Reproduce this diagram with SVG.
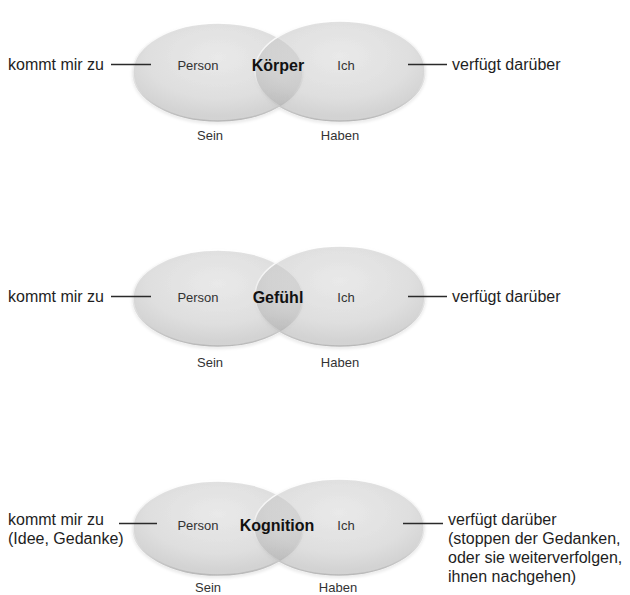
<svg xmlns="http://www.w3.org/2000/svg" width="630" height="595" viewBox="0 0 630 595">
  <defs>
    <radialGradient id="fillG" cx="50%" cy="35%" r="60%">
      <stop offset="0" stop-color="#d8d8d8"/>
      <stop offset="0.7" stop-color="#c2c2c2"/>
      <stop offset="1" stop-color="#a8a8a8"/>
    </radialGradient>
    <linearGradient id="strokeG" x1="0" y1="0" x2="0" y2="1">
      <stop offset="0" stop-color="#ffffff"/>
      <stop offset="0.5" stop-color="#ececec"/>
      <stop offset="1" stop-color="#b8b8b8"/>
    </linearGradient>
    <filter id="sh" x="-10%" y="-10%" width="120%" height="130%">
      <feDropShadow dx="0" dy="2" stdDeviation="1.5" flood-color="#000" flood-opacity="0.12"/>
    </filter>
  </defs>
  <style>
    .ell { fill: url(#fillG); fill-opacity: 0.45; stroke: url(#strokeG); stroke-width: 1.5; }
    .outer { font-family: "Liberation Sans", Arial, sans-serif; font-size: 16px; fill: #1e1e1e; }
    .inner { font-family: "Liberation Sans", Arial, sans-serif; font-size: 13px; fill: #333; text-anchor: middle; }
    .center { font-family: "Liberation Sans", Arial, sans-serif; font-size: 16px; font-weight: bold; fill: #111; text-anchor: middle; }
    .conn line { stroke: #2a2a2a; stroke-width: 1.5; }
  </style>
  <rect width="630" height="595" fill="#ffffff"/>

  <!-- Diagram 1 -->
  <g id="d1-ellipses" filter="url(#sh)">
    <ellipse id="d1-person" class="ell" cx="218" cy="72" rx="85" ry="49"/>
    <ellipse id="d1-ich" class="ell" cx="340" cy="71" rx="85" ry="50"/>
  </g>
  <g id="d1-person-label"><text class="inner" x="198" y="70">Person</text></g>
  <g id="d1-center"><text class="center" x="278" y="71">Körper</text></g>
  <g id="d1-ich-label"><text class="inner" x="346" y="70">Ich</text></g>
  <g id="d1-sein"><text class="inner" x="210" y="140">Sein</text></g>
  <g id="d1-haben"><text class="inner" x="340" y="140">Haben</text></g>
  <g id="d1-left"><text class="outer" x="8" y="70">kommt mir zu</text></g>
  <g id="d1-right"><text class="outer" x="452" y="70">verfügt darüber</text></g>

  <!-- Diagram 2 -->
  <g id="d2-ellipses" filter="url(#sh)">
    <ellipse id="d2-person" class="ell" cx="218" cy="298" rx="85" ry="48"/>
    <ellipse id="d2-ich" class="ell" cx="340" cy="296" rx="85" ry="50"/>
  </g>
  <g id="d2-person-label"><text class="inner" x="198" y="302">Person</text></g>
  <g id="d2-center"><text class="center" x="278" y="303">Gefühl</text></g>
  <g id="d2-ich-label"><text class="inner" x="346" y="302">Ich</text></g>
  <g id="d2-sein"><text class="inner" x="210" y="367">Sein</text></g>
  <g id="d2-haben"><text class="inner" x="340" y="367">Haben</text></g>
  <g id="d2-left"><text class="outer" x="8" y="302">kommt mir zu</text></g>
  <g id="d2-right"><text class="outer" x="452" y="302">verfügt darüber</text></g>

  <!-- Diagram 3 -->
  <g id="d3-ellipses" filter="url(#sh)">
    <ellipse id="d3-person" class="ell" cx="218" cy="528" rx="85" ry="47"/>
    <ellipse id="d3-ich" class="ell" cx="339" cy="527" rx="85" ry="48"/>
  </g>
  <g id="d3-person-label"><text class="inner" x="198" y="530">Person</text></g>
  <g id="d3-center"><text class="center" x="277" y="531">Kognition</text></g>
  <g id="d3-ich-label"><text class="inner" x="346" y="530">Ich</text></g>
  <g id="d3-sein"><text class="inner" x="208" y="592">Sein</text></g>
  <g id="d3-haben"><text class="inner" x="338" y="592">Haben</text></g>
  <g id="d3-left">
    <text class="outer" x="8" y="525">kommt mir zu</text>
    <text class="outer" x="8" y="544">(Idee, Gedanke)</text>
  </g>
  <g id="d3-right">
    <text class="outer" x="448" y="525">verfügt darüber</text>
    <text class="outer" x="448" y="544">(stoppen der Gedanken,</text>
    <text class="outer" x="448" y="563">oder sie weiterverfolgen,</text>
    <text class="outer" x="448" y="582">ihnen nachgehen)</text>
  </g>

  <!-- Connectors -->
  <g id="connectors" class="conn">
    <line x1="111" y1="64.5" x2="151" y2="64.5"/>
    <line x1="408" y1="64.5" x2="447" y2="64.5"/>
    <line x1="111" y1="296.5" x2="151" y2="296.5"/>
    <line x1="408" y1="296.5" x2="447" y2="296.5"/>
    <line x1="119" y1="523.5" x2="157" y2="523.5"/>
    <line x1="403" y1="523.5" x2="443" y2="523.5"/>
  </g>
</svg>
